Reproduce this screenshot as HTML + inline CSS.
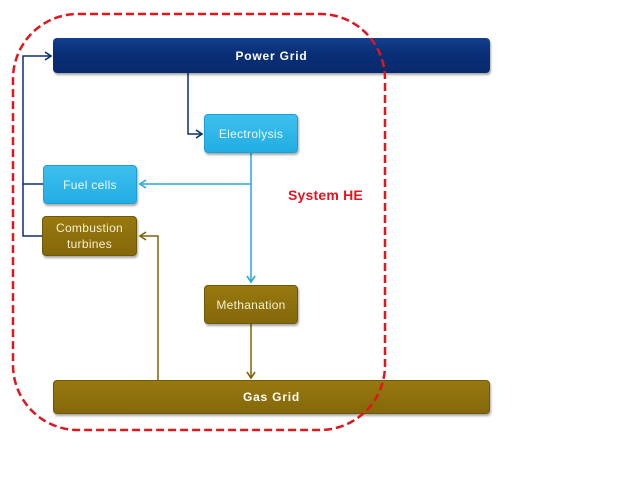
<!DOCTYPE html>
<html><head><style>
body{margin:0;width:638px;height:479px;background:#fff;overflow:hidden;position:relative;font-family:"Liberation Sans","DejaVu Sans",sans-serif}
.b{position:absolute;box-sizing:border-box;border-radius:4px;display:flex;align-items:center;justify-content:center;text-align:center;box-shadow:1px 2px 2px rgba(0,0,0,.35)}
.nv{background:linear-gradient(#12408f,#0a2f78 40%,#082a6c);color:#fff;font-weight:bold;font-size:12px;letter-spacing:.8px}
.lb{background:linear-gradient(#3ec0ee,#22ade3);color:#eefaff;font-size:12px;border:1px solid #1c9fd4;letter-spacing:.3px}
.gd{background:linear-gradient(#98790f,#84680a);color:#f7efd0;font-size:12px;border:1px solid #6f5808;letter-spacing:.3px}
</style></head><body>
<svg width="638" height="479" style="position:absolute;left:0;top:0">
<defs>
<marker id="an" markerWidth="10" markerHeight="10" refX="7" refY="5" orient="auto" markerUnits="userSpaceOnUse"><path d="M1,1 L7,5 L1,9" fill="none" stroke="#0b2f72" stroke-width="1.6"/></marker>
<marker id="ab" markerWidth="10" markerHeight="10" refX="7" refY="5" orient="auto" markerUnits="userSpaceOnUse"><path d="M1,1 L7,5 L1,9" fill="none" stroke="#2aa7dc" stroke-width="1.6"/></marker>
<marker id="ag" markerWidth="10" markerHeight="10" refX="7" refY="5" orient="auto" markerUnits="userSpaceOnUse"><path d="M1,1 L7,5 L1,9" fill="none" stroke="#7f650a" stroke-width="1.6"/></marker>
</defs>
<g fill="none" stroke-width="1.5">
<path d="M188,73 V134 H202" stroke="#0b2f72" marker-end="url(#an)"/>
<path d="M43,184 H23 M42,236 H23 V56 H51" stroke="#0b2f72" marker-end="url(#an)"/>
<path d="M251,153 V282" stroke="#2aa7dc" marker-end="url(#ab)"/>
<path d="M251,184 H140" stroke="#2aa7dc" marker-end="url(#ab)"/>
<path d="M158,380 V236 H140" stroke="#7f650a" marker-end="url(#ag)"/>
<path d="M251,324 V378" stroke="#7f650a" marker-end="url(#ag)"/>
</g>
</svg>
<div class="b nv" style="left:53px;top:38px;width:437px;height:35px">Power Grid</div>
<div class="b lb" style="left:204px;top:114px;width:94px;height:39px">Electrolysis</div>
<div class="b lb" style="left:43px;top:165px;width:94px;height:39px">Fuel cells</div>
<div class="b gd" style="left:42px;top:216px;width:95px;height:40px;line-height:16px">Combustion<br>turbines</div>
<div class="b gd" style="left:204px;top:285px;width:94px;height:39px">Methanation</div>
<div class="b gd" style="left:53px;top:380px;width:437px;height:34px;font-weight:bold;color:#fff;letter-spacing:.8px">Gas Grid</div>
<svg width="638" height="479" style="position:absolute;left:0;top:0">
<rect x="13" y="14" width="372" height="416" rx="65" fill="none" stroke="#e0161e" stroke-width="2.5" stroke-dasharray="8,4"/>
<text x="288" y="200" fill="#e0161e" font-weight="bold" font-size="14" letter-spacing="0.2" font-family="Liberation Sans,sans-serif">System HE</text>
</svg>
</body></html>
